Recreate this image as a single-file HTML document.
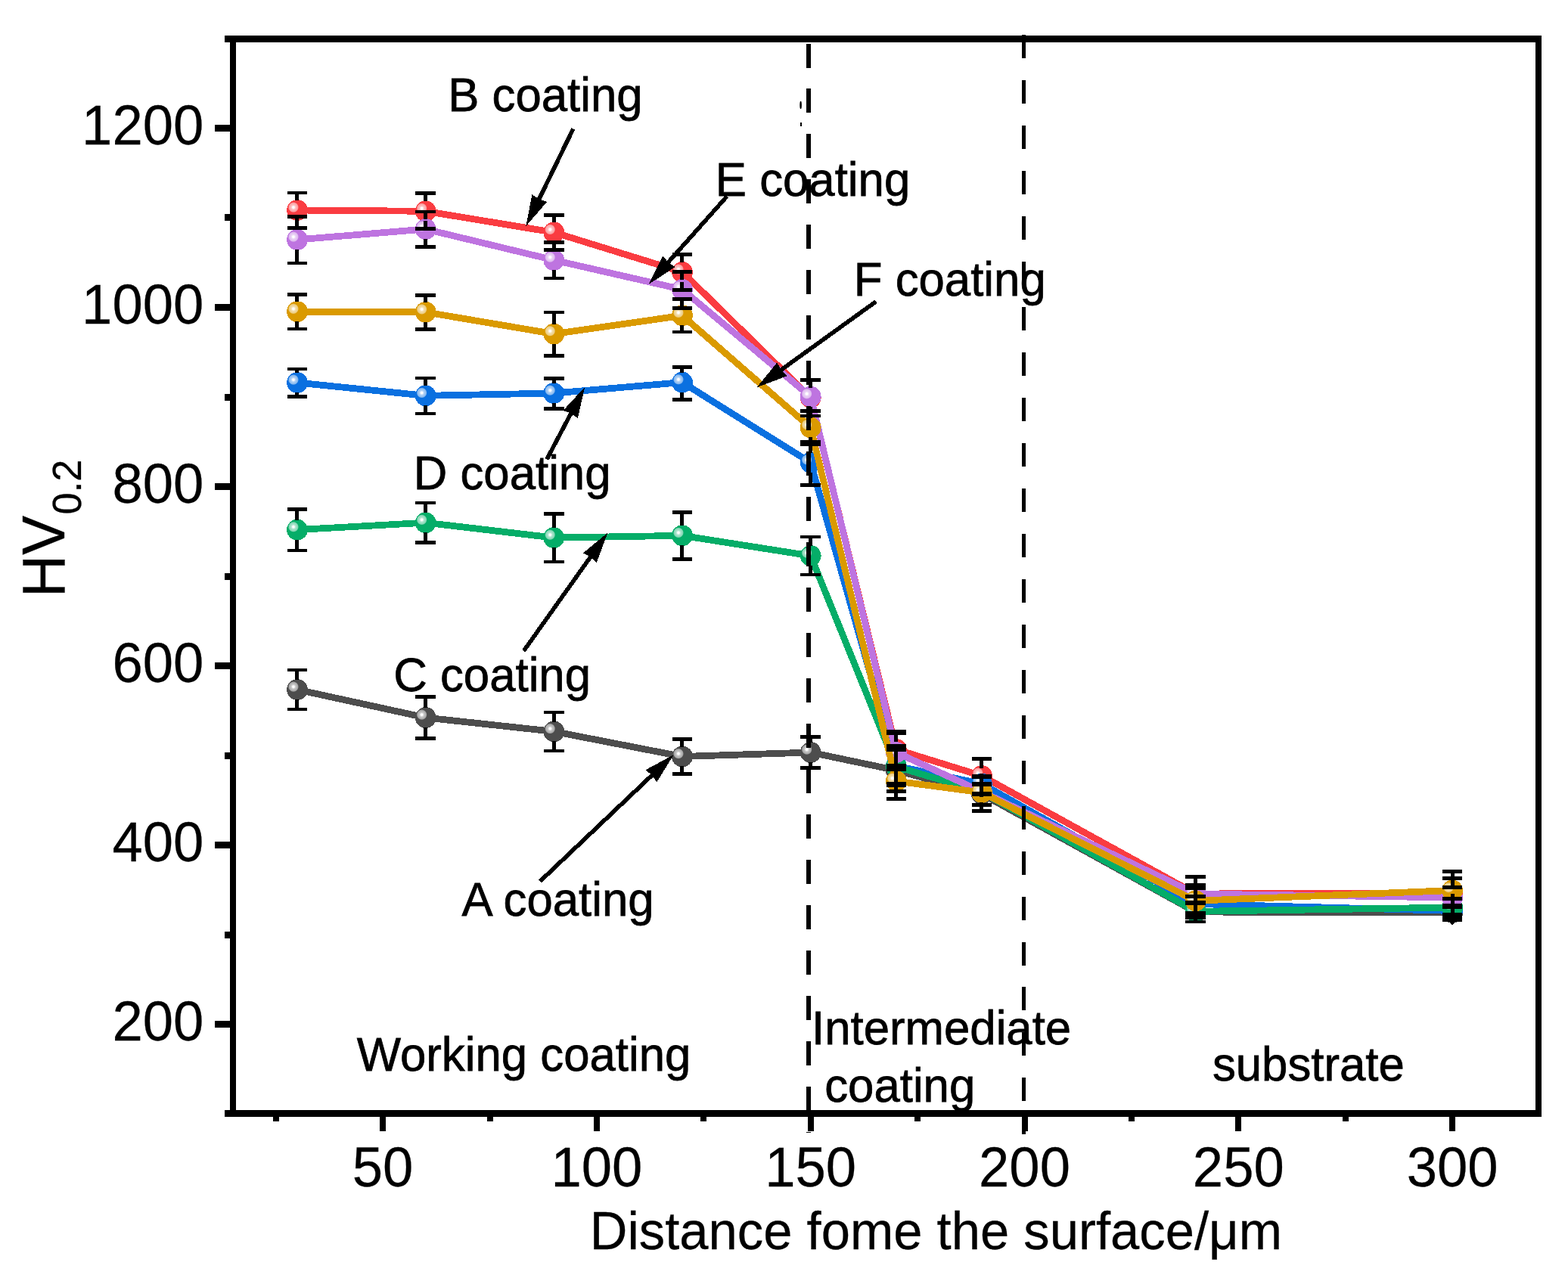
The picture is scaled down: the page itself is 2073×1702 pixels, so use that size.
<!DOCTYPE html>
<html lang="en">
<head>
<meta charset="utf-8">
<title>HV0.2 versus distance from the surface</title>
<style>
html,body{margin:0;padding:0;background:#fff;}
body{width:2073px;height:1702px;}
svg{display:block;}
</style>
</head>
<body>
<svg width="2073" height="1702" viewBox="0 0 2073 1702" font-family='"Liberation Sans", sans-serif' fill="#000">
<defs>
<radialGradient id="hl" cx="0.318" cy="0.362" r="0.25" fx="0.318" fy="0.362"><stop offset="0" stop-color="#fff"/><stop offset="0.18" stop-color="#fff"/><stop offset="0.4" stop-color="#fff" stop-opacity="0.7"/><stop offset="0.85" stop-color="#fff" stop-opacity="0.5"/><stop offset="1" stop-color="#fff" stop-opacity="0"/></radialGradient>
</defs>
<rect width="2073" height="1702" fill="#fff"/>
<g id="frame" fill="#000" shape-rendering="crispEdges">
<rect x="297" y="47" width="1741" height="9"/>
<rect x="297" y="1468" width="1741" height="9"/>
<rect x="304" y="47" width="8" height="1430"/>
<rect x="2030" y="47" width="8" height="1430"/>
<rect x="284" y="1350.4" width="21" height="9"/>
<rect x="284" y="1113.3" width="21" height="9"/>
<rect x="284" y="876.2" width="21" height="9"/>
<rect x="284" y="639.1" width="21" height="9"/>
<rect x="284" y="402.0" width="21" height="9"/>
<rect x="284" y="164.9" width="21" height="9"/>
<rect x="297" y="1231.9" width="8" height="9"/>
<rect x="297" y="994.8" width="8" height="9"/>
<rect x="297" y="757.6" width="8" height="9"/>
<rect x="297" y="520.5" width="8" height="9"/>
<rect x="297" y="283.4" width="8" height="9"/>
<rect x="502.1" y="1476" width="8" height="20"/>
<rect x="784.9" y="1476" width="8" height="20"/>
<rect x="1067.7" y="1476" width="8" height="20"/>
<rect x="1350.5" y="1476" width="8" height="20"/>
<rect x="1633.3" y="1476" width="8" height="20"/>
<rect x="1916.1" y="1476" width="8" height="20"/>
<rect x="360.7" y="1476" width="8" height="7"/>
<rect x="643.5" y="1476" width="8" height="7"/>
<rect x="926.3" y="1476" width="8" height="7"/>
<rect x="1209.1" y="1476" width="8" height="7"/>
<rect x="1491.9" y="1476" width="8" height="7"/>
<rect x="1774.7" y="1476" width="8" height="7"/>
</g>
<g id="ticklabels" stroke="#000" stroke-width="0.25">
<text transform="translate(269.4 1376.4) scale(1 1.025)" font-size="72.5" text-anchor="end">200</text>
<text transform="translate(269.4 1139.3) scale(1 1.025)" font-size="72.5" text-anchor="end">400</text>
<text transform="translate(269.4 902.2) scale(1 1.025)" font-size="72.5" text-anchor="end">600</text>
<text transform="translate(269.4 665.1) scale(1 1.025)" font-size="72.5" text-anchor="end">800</text>
<text transform="translate(269.4 428.0) scale(1 1.025)" font-size="72.5" text-anchor="end">1000</text>
<text transform="translate(269.4 190.9) scale(1 1.025)" font-size="72.5" text-anchor="end">1200</text>
<text transform="translate(506.1 1568.7) scale(1 1.025)" font-size="72.5" text-anchor="middle">50</text>
<text transform="translate(788.9 1568.7) scale(1 1.025)" font-size="72.5" text-anchor="middle">100</text>
<text transform="translate(1071.7 1568.7) scale(1 1.025)" font-size="72.5" text-anchor="middle">150</text>
<text transform="translate(1354.5 1568.7) scale(1 1.025)" font-size="72.5" text-anchor="middle">200</text>
<text transform="translate(1637.3 1568.7) scale(1 1.025)" font-size="72.5" text-anchor="middle">250</text>
<text transform="translate(1920.1 1568.7) scale(1 1.025)" font-size="72.5" text-anchor="middle">300</text>
</g>
<g id="titles" stroke="#000" stroke-width="0.3">
<text transform="translate(779.8 1651.9) scale(1 1.025)" font-size="68.8" text-anchor="start">Distance fome the surface/μm</text>
<text transform="translate(85.2 789.9) rotate(-90) scale(1 1.025)" font-size="77.7">HV<tspan font-size="52.2" dx="1.6" dy="21.6">0.2</tspan></text>
</g>
<g id="plots" shape-rendering="crispEdges">
<polyline points="393.0,912.0 562.7,949.0 732.3,967.4 902.0,1000.5 1071.7,995.0 1184.8,1018.7 1297.9,1050.0 1580.7,1206.0 1920.1,1207.0" fill="none" stroke="#4d4d4d" stroke-width="8.8" stroke-linejoin="round" stroke-linecap="round"/>
<circle cx="393.0" cy="912.0" r="13.9" fill="#4d4d4d"/><circle cx="393.0" cy="912.0" r="13.9" fill="url(#hl)"/>
<circle cx="562.7" cy="949.0" r="13.9" fill="#4d4d4d"/><circle cx="562.7" cy="949.0" r="13.9" fill="url(#hl)"/>
<circle cx="732.3" cy="967.4" r="13.9" fill="#4d4d4d"/><circle cx="732.3" cy="967.4" r="13.9" fill="url(#hl)"/>
<circle cx="902.0" cy="1000.5" r="13.9" fill="#4d4d4d"/><circle cx="902.0" cy="1000.5" r="13.9" fill="url(#hl)"/>
<circle cx="1071.7" cy="995.0" r="13.9" fill="#4d4d4d"/><circle cx="1071.7" cy="995.0" r="13.9" fill="url(#hl)"/>
<circle cx="1184.8" cy="1018.7" r="13.9" fill="#4d4d4d"/><circle cx="1184.8" cy="1018.7" r="13.9" fill="url(#hl)"/>
<circle cx="1297.9" cy="1050.0" r="13.9" fill="#4d4d4d"/><circle cx="1297.9" cy="1050.0" r="13.9" fill="url(#hl)"/>
<circle cx="1580.7" cy="1206.0" r="13.9" fill="#4d4d4d"/><circle cx="1580.7" cy="1206.0" r="13.9" fill="url(#hl)"/>
<circle cx="1920.1" cy="1207.0" r="13.9" fill="#4d4d4d"/><circle cx="1920.1" cy="1207.0" r="13.9" fill="url(#hl)"/>
<polyline points="393.0,278.0 562.7,279.3 732.3,307.3 902.0,359.8 1071.7,526.0 1184.8,991.0 1297.9,1026.0 1580.7,1182.0 1920.1,1181.0" fill="none" stroke="#fa3c41" stroke-width="8.8" stroke-linejoin="round" stroke-linecap="round"/>
<circle cx="393.0" cy="278.0" r="13.9" fill="#fa3c41"/><circle cx="393.0" cy="278.0" r="13.9" fill="url(#hl)"/>
<circle cx="562.7" cy="279.3" r="13.9" fill="#fa3c41"/><circle cx="562.7" cy="279.3" r="13.9" fill="url(#hl)"/>
<circle cx="732.3" cy="307.3" r="13.9" fill="#fa3c41"/><circle cx="732.3" cy="307.3" r="13.9" fill="url(#hl)"/>
<circle cx="902.0" cy="359.8" r="13.9" fill="#fa3c41"/><circle cx="902.0" cy="359.8" r="13.9" fill="url(#hl)"/>
<circle cx="1071.7" cy="526.0" r="13.9" fill="#fa3c41"/><circle cx="1071.7" cy="526.0" r="13.9" fill="url(#hl)"/>
<circle cx="1184.8" cy="991.0" r="13.9" fill="#fa3c41"/><circle cx="1184.8" cy="991.0" r="13.9" fill="url(#hl)"/>
<circle cx="1297.9" cy="1026.0" r="13.9" fill="#fa3c41"/><circle cx="1297.9" cy="1026.0" r="13.9" fill="url(#hl)"/>
<circle cx="1580.7" cy="1182.0" r="13.9" fill="#fa3c41"/><circle cx="1580.7" cy="1182.0" r="13.9" fill="url(#hl)"/>
<circle cx="1920.1" cy="1181.0" r="13.9" fill="#fa3c41"/><circle cx="1920.1" cy="1181.0" r="13.9" fill="url(#hl)"/>
<polyline points="393.0,506.0 562.7,523.3 732.3,520.0 902.0,505.6 1071.7,611.8 1184.8,1013.0 1297.9,1036.5 1580.7,1195.5 1920.1,1204.5" fill="none" stroke="#0a70e0" stroke-width="8.8" stroke-linejoin="round" stroke-linecap="round"/>
<circle cx="393.0" cy="506.0" r="13.9" fill="#0a70e0"/><circle cx="393.0" cy="506.0" r="13.9" fill="url(#hl)"/>
<circle cx="562.7" cy="523.3" r="13.9" fill="#0a70e0"/><circle cx="562.7" cy="523.3" r="13.9" fill="url(#hl)"/>
<circle cx="732.3" cy="520.0" r="13.9" fill="#0a70e0"/><circle cx="732.3" cy="520.0" r="13.9" fill="url(#hl)"/>
<circle cx="902.0" cy="505.6" r="13.9" fill="#0a70e0"/><circle cx="902.0" cy="505.6" r="13.9" fill="url(#hl)"/>
<circle cx="1071.7" cy="611.8" r="13.9" fill="#0a70e0"/><circle cx="1071.7" cy="611.8" r="13.9" fill="url(#hl)"/>
<circle cx="1184.8" cy="1013.0" r="13.9" fill="#0a70e0"/><circle cx="1184.8" cy="1013.0" r="13.9" fill="url(#hl)"/>
<circle cx="1297.9" cy="1036.5" r="13.9" fill="#0a70e0"/><circle cx="1297.9" cy="1036.5" r="13.9" fill="url(#hl)"/>
<circle cx="1580.7" cy="1195.5" r="13.9" fill="#0a70e0"/><circle cx="1580.7" cy="1195.5" r="13.9" fill="url(#hl)"/>
<circle cx="1920.1" cy="1204.5" r="13.9" fill="#0a70e0"/><circle cx="1920.1" cy="1204.5" r="13.9" fill="url(#hl)"/>
<polyline points="393.0,700.6 562.7,691.2 732.3,711.1 902.0,708.3 1071.7,735.0 1184.8,1013.8 1297.9,1047.5 1580.7,1205.4 1920.1,1200.0" fill="none" stroke="#05ad68" stroke-width="8.8" stroke-linejoin="round" stroke-linecap="round"/>
<circle cx="393.0" cy="700.6" r="13.9" fill="#05ad68"/><circle cx="393.0" cy="700.6" r="13.9" fill="url(#hl)"/>
<circle cx="562.7" cy="691.2" r="13.9" fill="#05ad68"/><circle cx="562.7" cy="691.2" r="13.9" fill="url(#hl)"/>
<circle cx="732.3" cy="711.1" r="13.9" fill="#05ad68"/><circle cx="732.3" cy="711.1" r="13.9" fill="url(#hl)"/>
<circle cx="902.0" cy="708.3" r="13.9" fill="#05ad68"/><circle cx="902.0" cy="708.3" r="13.9" fill="url(#hl)"/>
<circle cx="1071.7" cy="735.0" r="13.9" fill="#05ad68"/><circle cx="1071.7" cy="735.0" r="13.9" fill="url(#hl)"/>
<circle cx="1184.8" cy="1013.8" r="13.9" fill="#05ad68"/><circle cx="1184.8" cy="1013.8" r="13.9" fill="url(#hl)"/>
<circle cx="1297.9" cy="1047.5" r="13.9" fill="#05ad68"/><circle cx="1297.9" cy="1047.5" r="13.9" fill="url(#hl)"/>
<circle cx="1580.7" cy="1205.4" r="13.9" fill="#05ad68"/><circle cx="1580.7" cy="1205.4" r="13.9" fill="url(#hl)"/>
<circle cx="1920.1" cy="1200.0" r="13.9" fill="#05ad68"/><circle cx="1920.1" cy="1200.0" r="13.9" fill="url(#hl)"/>
<polyline points="393.0,317.0 562.7,303.0 732.3,344.0 902.0,382.8 1071.7,524.6 1184.8,995.0 1297.9,1047.0 1580.7,1182.0 1920.1,1187.0" fill="none" stroke="#be74e0" stroke-width="8.8" stroke-linejoin="round" stroke-linecap="round"/>
<circle cx="393.0" cy="317.0" r="13.9" fill="#be74e0"/><circle cx="393.0" cy="317.0" r="13.9" fill="url(#hl)"/>
<circle cx="562.7" cy="303.0" r="13.9" fill="#be74e0"/><circle cx="562.7" cy="303.0" r="13.9" fill="url(#hl)"/>
<circle cx="732.3" cy="344.0" r="13.9" fill="#be74e0"/><circle cx="732.3" cy="344.0" r="13.9" fill="url(#hl)"/>
<circle cx="902.0" cy="382.8" r="13.9" fill="#be74e0"/><circle cx="902.0" cy="382.8" r="13.9" fill="url(#hl)"/>
<circle cx="1071.7" cy="524.6" r="13.9" fill="#be74e0"/><circle cx="1071.7" cy="524.6" r="13.9" fill="url(#hl)"/>
<circle cx="1184.8" cy="995.0" r="13.9" fill="#be74e0"/><circle cx="1184.8" cy="995.0" r="13.9" fill="url(#hl)"/>
<circle cx="1297.9" cy="1047.0" r="13.9" fill="#be74e0"/><circle cx="1297.9" cy="1047.0" r="13.9" fill="url(#hl)"/>
<circle cx="1580.7" cy="1182.0" r="13.9" fill="#be74e0"/><circle cx="1580.7" cy="1182.0" r="13.9" fill="url(#hl)"/>
<circle cx="1920.1" cy="1187.0" r="13.9" fill="#be74e0"/><circle cx="1920.1" cy="1187.0" r="13.9" fill="url(#hl)"/>
<polyline points="393.0,412.2 562.7,412.8 732.3,441.6 902.0,417.3 1071.7,565.5 1184.8,1033.0 1297.9,1048.0 1580.7,1191.3 1920.1,1177.5" fill="none" stroke="#da9a00" stroke-width="8.8" stroke-linejoin="round" stroke-linecap="round"/>
<circle cx="393.0" cy="412.2" r="13.9" fill="#da9a00"/><circle cx="393.0" cy="412.2" r="13.9" fill="url(#hl)"/>
<circle cx="562.7" cy="412.8" r="13.9" fill="#da9a00"/><circle cx="562.7" cy="412.8" r="13.9" fill="url(#hl)"/>
<circle cx="732.3" cy="441.6" r="13.9" fill="#da9a00"/><circle cx="732.3" cy="441.6" r="13.9" fill="url(#hl)"/>
<circle cx="902.0" cy="417.3" r="13.9" fill="#da9a00"/><circle cx="902.0" cy="417.3" r="13.9" fill="url(#hl)"/>
<circle cx="1071.7" cy="565.5" r="13.9" fill="#da9a00"/><circle cx="1071.7" cy="565.5" r="13.9" fill="url(#hl)"/>
<circle cx="1184.8" cy="1033.0" r="13.9" fill="#da9a00"/><circle cx="1184.8" cy="1033.0" r="13.9" fill="url(#hl)"/>
<circle cx="1297.9" cy="1048.0" r="13.9" fill="#da9a00"/><circle cx="1297.9" cy="1048.0" r="13.9" fill="url(#hl)"/>
<circle cx="1580.7" cy="1191.3" r="13.9" fill="#da9a00"/><circle cx="1580.7" cy="1191.3" r="13.9" fill="url(#hl)"/>
<circle cx="1920.1" cy="1177.5" r="13.9" fill="#da9a00"/><circle cx="1920.1" cy="1177.5" r="13.9" fill="url(#hl)"/>
</g>
<g id="errorbars" fill="#000" shape-rendering="crispEdges">
<rect x="379.7" y="883.7" width="26.6" height="4.6"/>
<rect x="390.4" y="886.0" width="5.0" height="13.1"/>
<rect x="379.7" y="935.7" width="26.6" height="4.6"/>
<rect x="390.4" y="924.9" width="5.0" height="13.1"/>
<rect x="549.4" y="919.0" width="26.6" height="4.6"/>
<rect x="560.1" y="921.3" width="5.0" height="14.8"/>
<rect x="549.4" y="974.4" width="26.6" height="4.6"/>
<rect x="560.1" y="961.9" width="5.0" height="14.8"/>
<rect x="719.0" y="939.5" width="26.6" height="4.6"/>
<rect x="729.7" y="941.8" width="5.0" height="12.7"/>
<rect x="719.0" y="990.7" width="26.6" height="4.6"/>
<rect x="729.7" y="980.3" width="5.0" height="12.7"/>
<rect x="888.7" y="975.2" width="26.6" height="4.6"/>
<rect x="899.4" y="977.5" width="5.0" height="10.1"/>
<rect x="888.7" y="1021.2" width="26.6" height="4.6"/>
<rect x="899.4" y="1013.4" width="5.0" height="10.1"/>
<rect x="1058.4" y="972.2" width="26.6" height="4.6"/>
<rect x="1069.1" y="974.5" width="5.0" height="7.6"/>
<rect x="1058.4" y="1013.2" width="26.6" height="4.6"/>
<rect x="1069.1" y="1007.9" width="5.0" height="7.6"/>
<rect x="379.7" y="252.7" width="26.6" height="4.6"/>
<rect x="390.4" y="255.0" width="5.0" height="10.1"/>
<rect x="379.7" y="299.2" width="26.6" height="4.6"/>
<rect x="390.4" y="290.9" width="5.0" height="10.6"/>
<rect x="549.4" y="253.2" width="26.6" height="4.6"/>
<rect x="560.1" y="255.5" width="5.0" height="10.9"/>
<rect x="549.4" y="300.3" width="26.6" height="4.6"/>
<rect x="560.1" y="292.2" width="5.0" height="10.4"/>
<rect x="719.0" y="282.3" width="26.6" height="4.6"/>
<rect x="729.7" y="284.6" width="5.0" height="9.8"/>
<rect x="719.0" y="328.3" width="26.6" height="4.6"/>
<rect x="729.7" y="320.2" width="5.0" height="10.4"/>
<rect x="888.7" y="333.9" width="26.6" height="4.6"/>
<rect x="899.4" y="336.2" width="5.0" height="10.7"/>
<rect x="888.7" y="381.3" width="26.6" height="4.6"/>
<rect x="899.4" y="372.7" width="5.0" height="10.9"/>
<rect x="1058.4" y="500.1" width="26.6" height="4.6"/>
<rect x="1069.1" y="502.4" width="5.0" height="10.7"/>
<rect x="1058.4" y="547.6" width="26.6" height="4.6"/>
<rect x="1069.1" y="538.9" width="5.0" height="11.0"/>
<rect x="379.7" y="485.5" width="26.6" height="4.6"/>
<rect x="390.4" y="487.8" width="5.0" height="5.3"/>
<rect x="379.7" y="522.1" width="26.6" height="4.6"/>
<rect x="390.4" y="518.9" width="5.0" height="5.5"/>
<rect x="549.4" y="497.7" width="26.6" height="4.6"/>
<rect x="560.1" y="500.0" width="5.0" height="10.4"/>
<rect x="549.4" y="544.6" width="26.6" height="4.6"/>
<rect x="560.1" y="536.2" width="5.0" height="10.7"/>
<rect x="719.0" y="497.9" width="26.6" height="4.6"/>
<rect x="729.7" y="500.2" width="5.0" height="6.9"/>
<rect x="719.0" y="538.2" width="26.6" height="4.6"/>
<rect x="729.7" y="532.9" width="5.0" height="7.6"/>
<rect x="888.7" y="483.2" width="26.6" height="4.6"/>
<rect x="899.4" y="485.5" width="5.0" height="7.2"/>
<rect x="888.7" y="526.1" width="26.6" height="4.6"/>
<rect x="899.4" y="518.5" width="5.0" height="9.9"/>
<rect x="1058.4" y="581.7" width="26.6" height="4.6"/>
<rect x="1069.1" y="584.0" width="5.0" height="14.9"/>
<rect x="1058.4" y="639.0" width="26.6" height="4.6"/>
<rect x="1069.1" y="624.7" width="5.0" height="16.6"/>
<rect x="379.7" y="671.0" width="26.6" height="4.6"/>
<rect x="390.4" y="673.3" width="5.0" height="14.4"/>
<rect x="379.7" y="725.8" width="26.6" height="4.6"/>
<rect x="390.4" y="713.5" width="5.0" height="14.6"/>
<rect x="549.4" y="662.7" width="26.6" height="4.6"/>
<rect x="560.1" y="665.0" width="5.0" height="13.3"/>
<rect x="549.4" y="715.2" width="26.6" height="4.6"/>
<rect x="560.1" y="704.1" width="5.0" height="13.4"/>
<rect x="719.0" y="677.4" width="26.6" height="4.6"/>
<rect x="729.7" y="679.7" width="5.0" height="18.5"/>
<rect x="719.0" y="740.7" width="26.6" height="4.6"/>
<rect x="729.7" y="724.0" width="5.0" height="19.0"/>
<rect x="888.7" y="675.1" width="26.6" height="4.6"/>
<rect x="899.4" y="677.4" width="5.0" height="18.0"/>
<rect x="888.7" y="737.1" width="26.6" height="4.6"/>
<rect x="899.4" y="721.2" width="5.0" height="18.2"/>
<rect x="1058.4" y="707.7" width="26.6" height="4.6"/>
<rect x="1069.1" y="710.0" width="5.0" height="12.1"/>
<rect x="1058.4" y="757.7" width="26.6" height="4.6"/>
<rect x="1069.1" y="747.9" width="5.0" height="12.1"/>
<rect x="379.7" y="284.4" width="26.6" height="4.6"/>
<rect x="390.4" y="286.7" width="5.0" height="17.4"/>
<rect x="379.7" y="345.5" width="26.6" height="4.6"/>
<rect x="390.4" y="329.9" width="5.0" height="17.9"/>
<rect x="549.4" y="277.6" width="26.6" height="4.6"/>
<rect x="560.1" y="279.9" width="5.0" height="10.2"/>
<rect x="549.4" y="324.3" width="26.6" height="4.6"/>
<rect x="560.1" y="315.9" width="5.0" height="10.7"/>
<rect x="719.0" y="317.9" width="26.6" height="4.6"/>
<rect x="729.7" y="320.2" width="5.0" height="10.9"/>
<rect x="719.0" y="365.7" width="26.6" height="4.6"/>
<rect x="729.7" y="356.9" width="5.0" height="11.1"/>
<rect x="888.7" y="357.3" width="26.6" height="4.6"/>
<rect x="899.4" y="359.6" width="5.0" height="10.3"/>
<rect x="888.7" y="405.1" width="26.6" height="4.6"/>
<rect x="899.4" y="395.7" width="5.0" height="11.7"/>
<rect x="1058.4" y="500.1" width="26.6" height="4.6"/>
<rect x="1069.1" y="502.4" width="5.0" height="9.3"/>
<rect x="1058.4" y="540.9" width="26.6" height="4.6"/>
<rect x="1069.1" y="537.5" width="5.0" height="5.7"/>
<rect x="379.7" y="387.3" width="26.6" height="4.6"/>
<rect x="390.4" y="389.6" width="5.0" height="9.7"/>
<rect x="379.7" y="432.5" width="26.6" height="4.6"/>
<rect x="390.4" y="425.1" width="5.0" height="9.7"/>
<rect x="549.4" y="388.4" width="26.6" height="4.6"/>
<rect x="560.1" y="390.7" width="5.0" height="9.2"/>
<rect x="549.4" y="433.2" width="26.6" height="4.6"/>
<rect x="560.1" y="425.7" width="5.0" height="9.8"/>
<rect x="719.0" y="410.7" width="26.6" height="4.6"/>
<rect x="729.7" y="413.0" width="5.0" height="15.7"/>
<rect x="719.0" y="468.2" width="26.6" height="4.6"/>
<rect x="729.7" y="454.5" width="5.0" height="16.0"/>
<rect x="888.7" y="393.4" width="26.6" height="4.6"/>
<rect x="899.4" y="395.7" width="5.0" height="8.7"/>
<rect x="888.7" y="436.5" width="26.6" height="4.6"/>
<rect x="899.4" y="430.2" width="5.0" height="8.6"/>
<rect x="1058.4" y="540.9" width="26.6" height="4.6"/>
<rect x="1069.1" y="543.2" width="5.0" height="9.4"/>
<rect x="1058.4" y="585.2" width="26.6" height="4.6"/>
<rect x="1069.1" y="578.4" width="5.0" height="9.1"/>
<rect x="1171.5" y="965.0" width="26.6" height="6.7"/>
<rect x="1171.5" y="984.4" width="26.6" height="9.3"/>
<rect x="1171.5" y="1010.2" width="26.6" height="9.6"/>
<rect x="1171.5" y="1034.0" width="26.6" height="6.7"/>
<rect x="1171.5" y="1043.9" width="26.6" height="5.0"/>
<rect x="1171.5" y="1054.0" width="26.6" height="5.0"/>
<rect x="1182.2" y="968.4" width="5.0" height="12.4"/>
<rect x="1182.2" y="993.6" width="5.0" height="16.6"/>
<rect x="1182.2" y="1019.8" width="5.0" height="36.7"/>
<rect x="1284.6" y="1000.8" width="26.6" height="5.2"/>
<rect x="1284.6" y="1024.3" width="26.6" height="5.5"/>
<rect x="1284.6" y="1034.2" width="26.6" height="5.8"/>
<rect x="1284.6" y="1047.2" width="26.6" height="5.5"/>
<rect x="1284.6" y="1061.8" width="26.6" height="5.0"/>
<rect x="1284.6" y="1069.5" width="26.6" height="5.5"/>
<rect x="1295.3" y="1003.4" width="5.0" height="12.2"/>
<rect x="1295.3" y="1022.6" width="5.0" height="31.4"/>
<rect x="1295.3" y="1061.3" width="5.0" height="10.9"/>
<rect x="1567.4" y="1157.0" width="26.6" height="5.0"/>
<rect x="1567.4" y="1167.7" width="26.6" height="5.0"/>
<rect x="1567.4" y="1171.8" width="26.6" height="5.0"/>
<rect x="1567.4" y="1182.9" width="26.6" height="5.0"/>
<rect x="1567.4" y="1191.2" width="26.6" height="5.5"/>
<rect x="1567.4" y="1205.2" width="26.6" height="10.4"/>
<rect x="1567.4" y="1216.5" width="26.6" height="4.6"/>
<rect x="1578.1" y="1159.5" width="5.0" height="59.3"/>
<rect x="1906.8" y="1149.9" width="26.6" height="5.0"/>
<rect x="1906.8" y="1158.9" width="26.6" height="5.0"/>
<rect x="1906.8" y="1171.1" width="26.6" height="5.0"/>
<rect x="1906.8" y="1185.5" width="26.6" height="5.5"/>
<rect x="1906.8" y="1194.8" width="26.6" height="7.6"/>
<rect x="1906.8" y="1207.4" width="26.6" height="11.6"/>
<rect x="1917.5" y="1152.4" width="5.0" height="23.6"/>
<rect x="1917.5" y="1182.0" width="5.0" height="39.0"/>
<polygon points="1916.6,1219 1923.6,1219 1920.1,1223.6"/>
</g>
<g id="arrows" shape-rendering="crispEdges">
<line x1="757.8" y1="170.4" x2="712.6" y2="263.6" stroke="#000" stroke-width="5.6"/>
<polygon points="695.4,299.0 703.4,257.3 712.6,263.6 723.2,266.9"/>
<line x1="961.2" y1="259.5" x2="883.4" y2="346.9" stroke="#000" stroke-width="5.6"/>
<polygon points="857.2,376.3 876.2,338.4 883.4,346.9 892.7,353.0"/>
<line x1="1158.1" y1="398.8" x2="1032.5" y2="489.3" stroke="#000" stroke-width="5.6"/>
<polygon points="1000.6,512.3 1027.4,479.4 1032.5,489.3 1040.3,497.3"/>
<line x1="722.9" y1="607.4" x2="754.9" y2="546.6" stroke="#000" stroke-width="5.6"/>
<polygon points="773.2,511.8 763.8,553.2 754.9,546.6 744.4,543.0"/>
<line x1="692.4" y1="860.8" x2="780.7" y2="736.5" stroke="#000" stroke-width="5.6"/>
<polygon points="803.5,704.4 788.7,744.2 780.7,736.5 770.8,731.5"/>
<line x1="714.0" y1="1165.5" x2="862.0" y2="1025.2" stroke="#000" stroke-width="5.6"/>
<polygon points="890.6,998.1 868.4,1034.3 862.0,1025.2 853.3,1018.3"/>
</g>
<g id="labels" stroke="#000" stroke-width="0.75">
<text transform="translate(592.2 146.6) scale(1 1.025)" font-size="61.75" text-anchor="start">B coating</text>
<text transform="translate(945.8 258.6) scale(1 1.025)" font-size="61.75" text-anchor="start">E coating</text>
<text transform="translate(1128.8 390.7) scale(1 1.025)" font-size="61.75" text-anchor="start">F coating</text>
<text transform="translate(546.7 646.6) scale(1 1.025)" font-size="61.75" text-anchor="start">D coating</text>
<text transform="translate(520.2 914.3) scale(1 1.025)" font-size="61.75" text-anchor="start">C coating</text>
<text transform="translate(610.6 1211.1) scale(1 1.025)" font-size="61.75" text-anchor="start">A coating</text>
<text transform="translate(471.8 1416.2) scale(1 1.025)" font-size="61.75" text-anchor="start">Working coating</text>
<text transform="translate(1073.0 1381.0) scale(1 1.025)" font-size="61.75" text-anchor="start">Intermediate</text>
<text transform="translate(1090.2 1456.7) scale(1 1.025)" font-size="61.75" text-anchor="start">coating</text>
<text transform="translate(1602.9 1429.4) scale(1 1.025)" font-size="61.75" text-anchor="start">substrate</text>
</g>
<g id="separators" stroke="#000" fill="none" shape-rendering="crispEdges">
<line x1="1069" y1="57.5" x2="1069" y2="1498" stroke-width="6" stroke-dasharray="32 27.96"/>
<line x1="1353.3" y1="46.3" x2="1353.3" y2="1500" stroke-width="5" stroke-dasharray="31 28.96"/>
</g>
<g id="specks" fill="#000"><ellipse cx="1058.6" cy="139" rx="1.3" ry="5.2"/><rect x="1058" y="162" width="2" height="5"/></g>
</svg>
</body>
</html>
